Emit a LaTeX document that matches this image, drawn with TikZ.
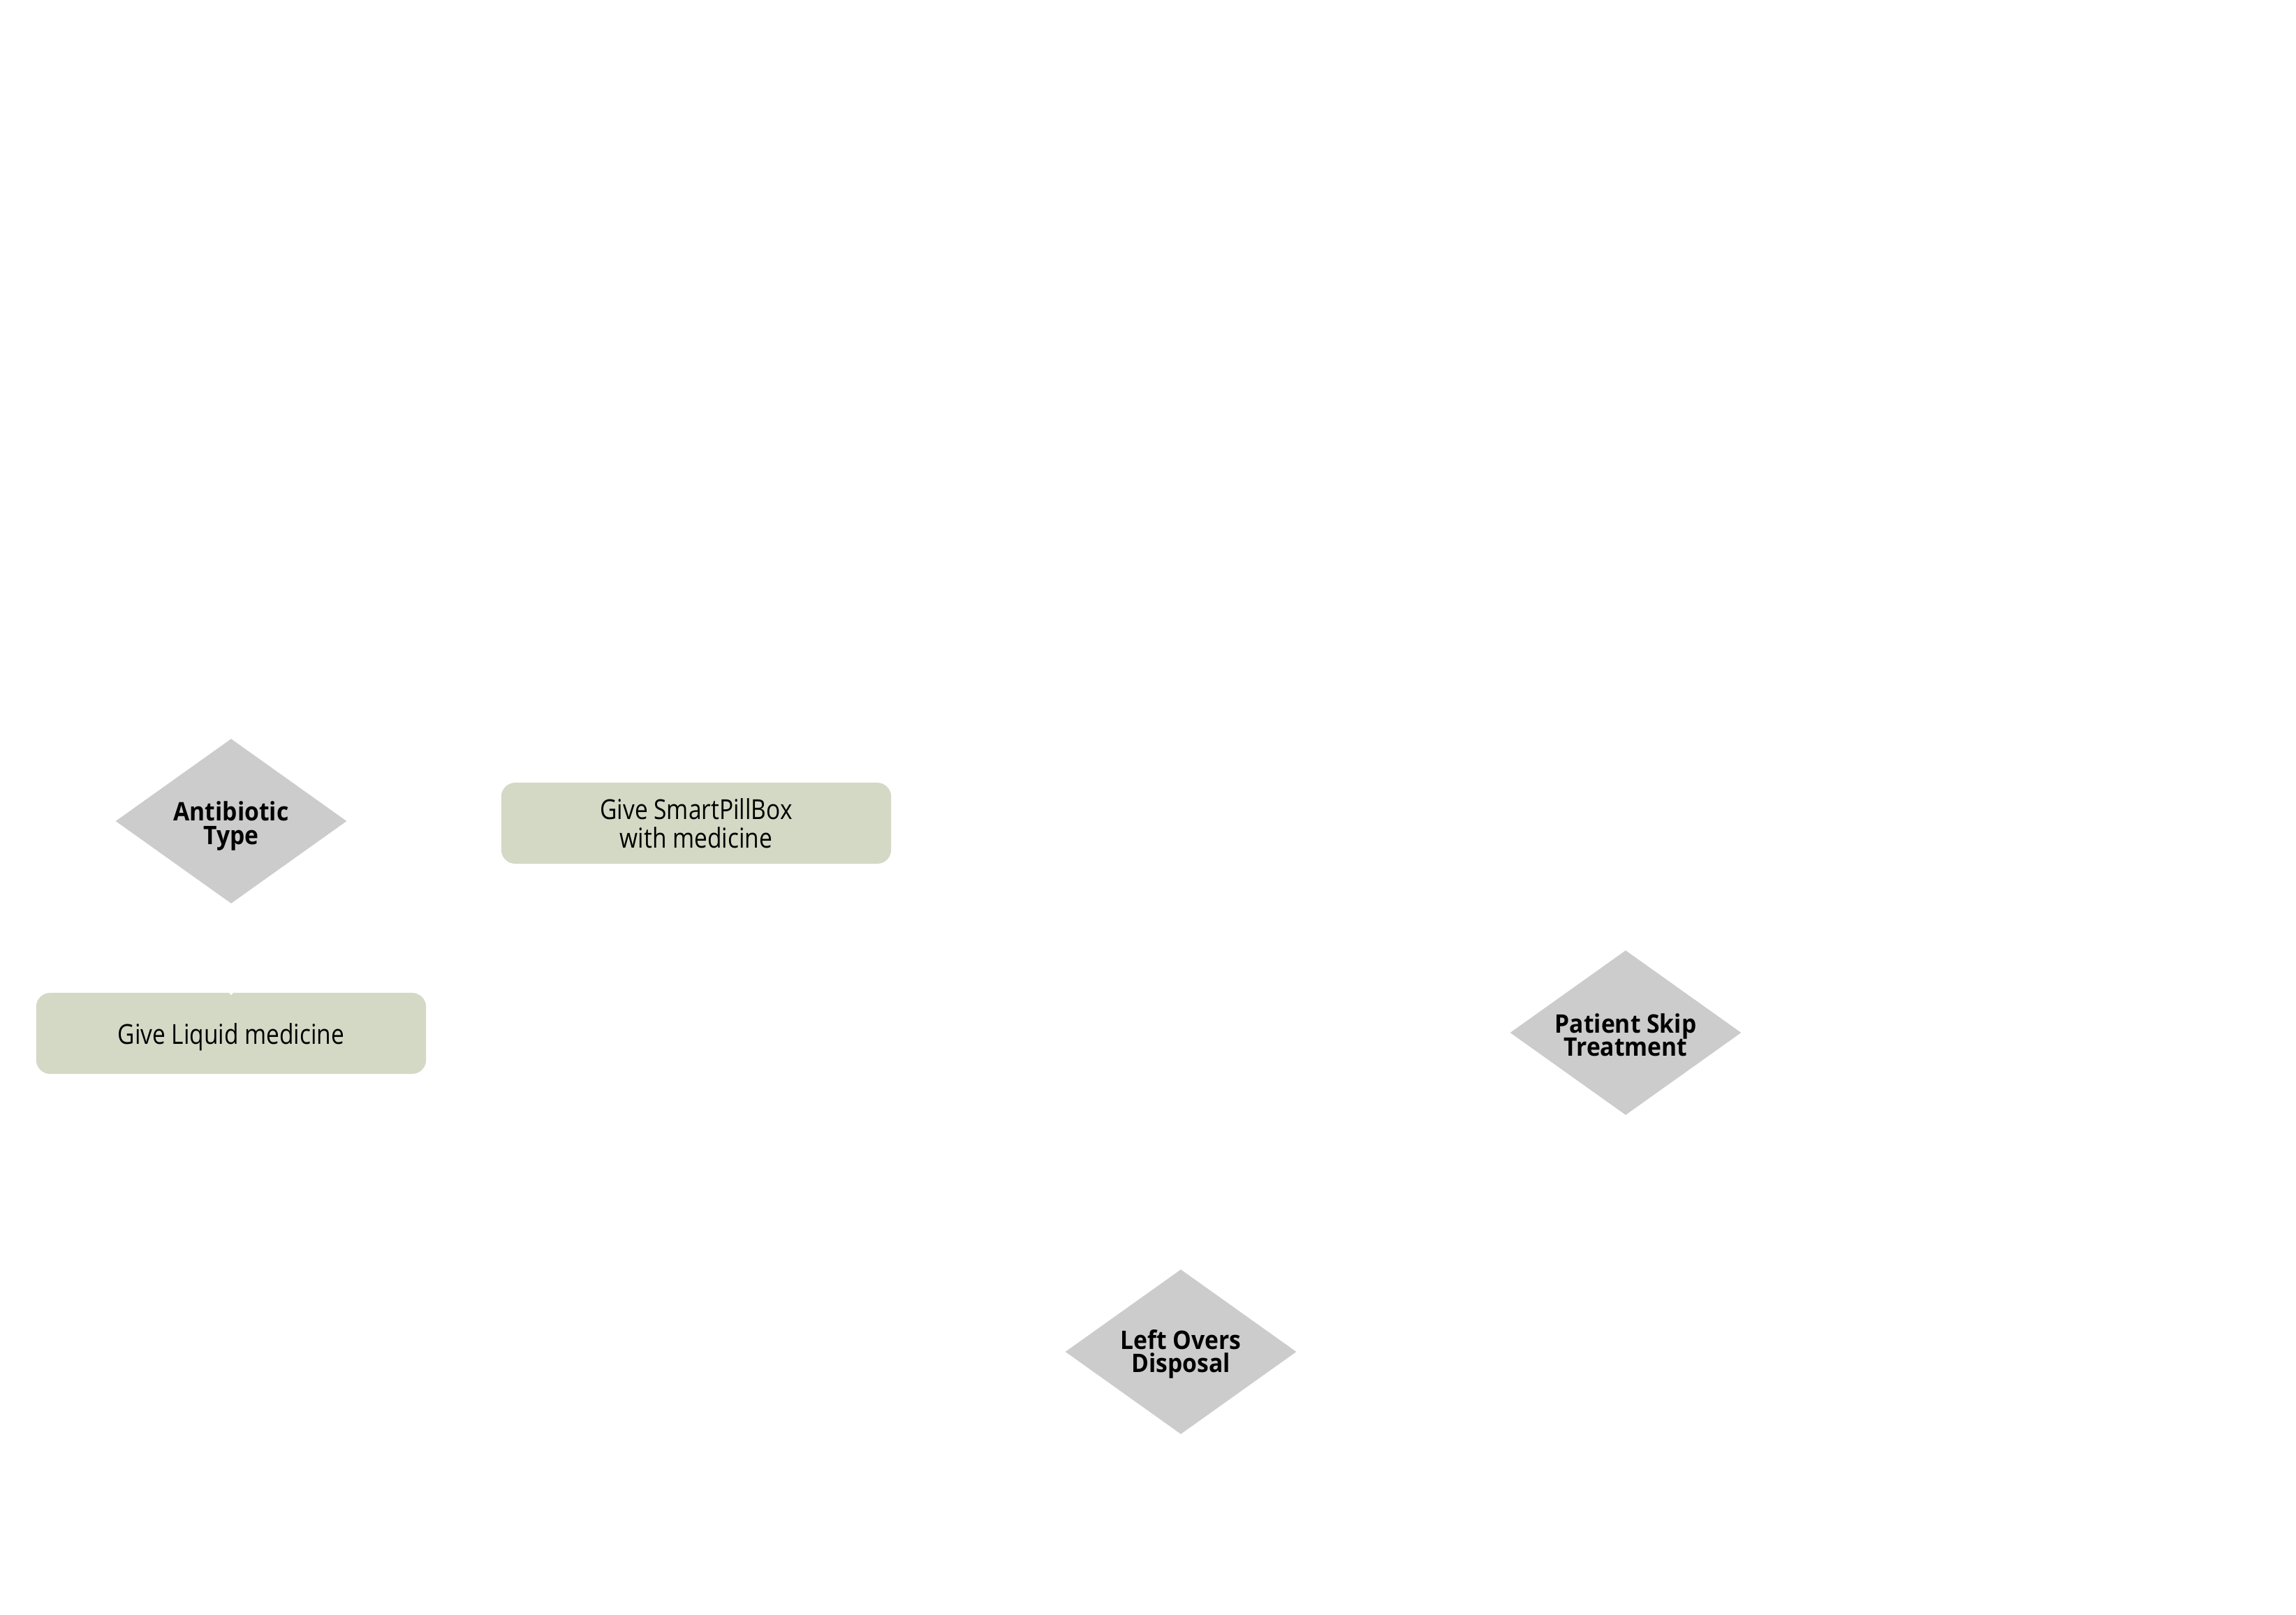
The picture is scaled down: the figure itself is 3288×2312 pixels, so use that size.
\documentclass[tikz,border=0pt]{standalone}
\usepackage{fontspec}
\setmainfont{Open Sans}[FakeStretch=0.85]
\newfontfamily\decfont{Open Sans}[FakeStretch=0.92]
\usetikzlibrary{shapes.geometric,arrows.meta}
\definecolor{decgray}{HTML}{CCCCCC}
\definecolor{boxgreen}{HTML}{D4D9C5}
\tikzset{
  decision/.style={diamond, fill=decgray, draw=none, inner sep=0pt,
    minimum width=3.31cm, minimum height=2.36cm, aspect=1.4},
  dectext/.style={align=center, inner sep=0pt,
    font=\decfont\fontsize{10.4pt}{9.4pt}\selectfont\bfseries},
  taskbox/.style={rectangle, rounded corners=0.2cm, fill=boxgreen, draw=none,
    minimum width=5.58cm, minimum height=1.16cm, inner sep=0pt},
  tasktext/.style={align=center, inner sep=0pt,
    font=\fontsize{11.2pt}{11.6pt}\selectfont},
  ghost/.style={draw=white, line width=0.6pt, -{Triangle[width=5pt,length=3pt]}}
}
\begin{document}
\begin{tikzpicture}[x=0.01cm,y=-0.01cm]
\lineskiplimit=-20pt\relax
\path[use as bounding box, fill=white] (0,0) rectangle (3288,2312);
\node[decision] (abt) at (331,1176) {};
\node[dectext] (abtT) at ([yshift=-0.07cm]abt.center) {Antibiotic\\Type};
\node[taskbox] (liq) at (331,1480) {};
\node[tasktext] (liqT) at ([yshift=-0.05cm]liq.center) {Give Liquid medicine};
\node[taskbox] (spb) at (997,1179) {};
\node[tasktext] (spbT) at (spb.center) {Give SmartPillBox\\with medicine};
\node[decision] (skip) at (2328,1479) {};
\node[dectext] (skipT) at ([yshift=-0.03cm]skip.center) {Patient Skip\\Treatment};
\node[decision] (left) at (1691,1936) {};
\node[dectext] (leftT) at ([yshift=-0.03cm]left.center) {Left Overs\\Disposal};
\draw[ghost] (abt.south) -- ([yshift=-0.04cm]liq.north);
\end{tikzpicture}
\end{document}
